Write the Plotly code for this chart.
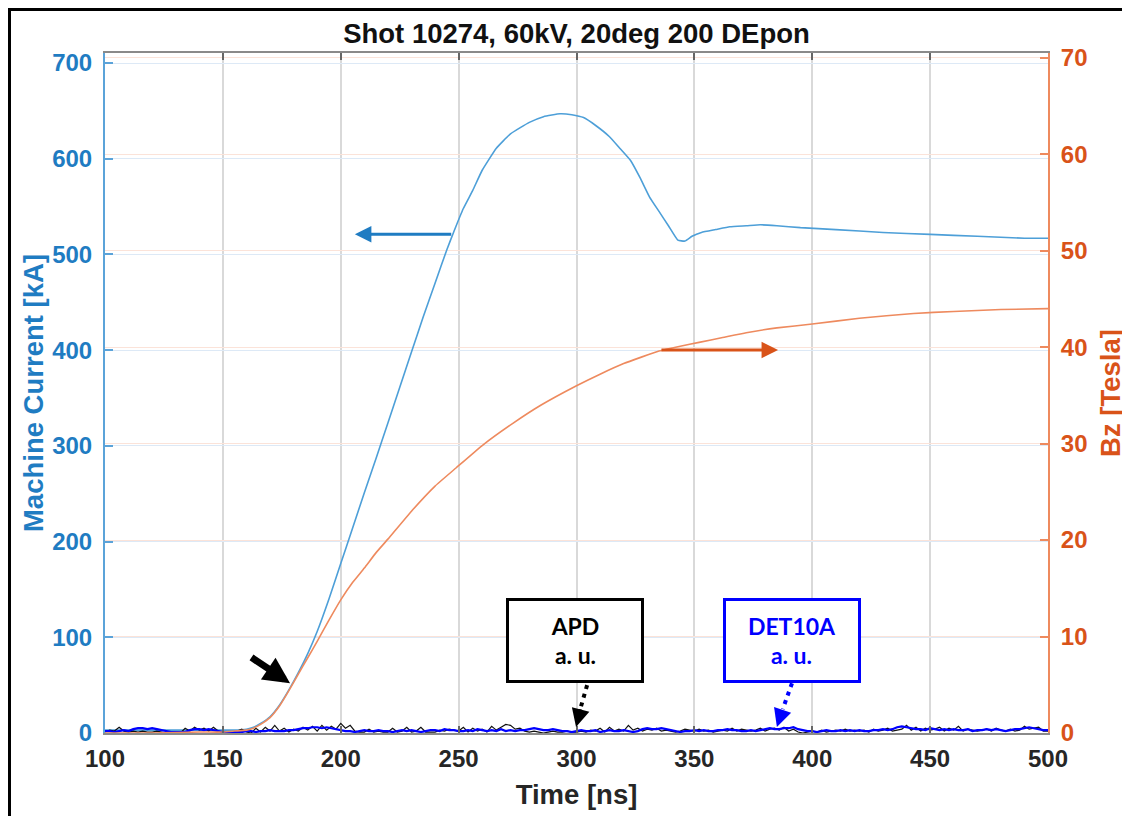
import plotly.graph_objects as go

# ---------------- data ----------------
t_cur = [100, 110, 120, 130, 140, 150, 155, 160, 163, 166, 170, 174, 178, 182, 186, 190,
         195, 200, 205, 210, 215, 220, 225, 230, 235, 240, 245, 248, 252, 256, 260, 266,
         272, 280, 286, 293, 298, 303, 308, 314, 318, 323, 327, 331, 335, 339, 343, 346,
         349, 353, 359, 365, 372, 378, 385, 395, 410, 430, 450, 470, 490, 500]
current_kA = [3, 3, 3, 3, 3, 3, 3, 4, 6, 10, 17, 29, 45, 63, 83, 106,
              140, 177, 214, 251, 287, 324, 361, 398, 435, 470, 505, 524, 548, 567, 588, 611,
              626, 638, 644, 647, 646, 643, 635, 623, 612, 598, 580, 560, 545, 530, 515, 514,
              519, 523, 526, 529, 530, 531, 530, 528, 526, 523, 521, 519, 517, 517]

t_bz = [100, 120, 140, 150, 155, 160, 163, 166, 170, 174, 178, 182, 186, 190, 195, 200,
        205, 210, 215, 220, 230, 240, 249, 260, 273, 285, 300, 310, 320, 335, 344, 352,
        362, 372, 385, 400, 420, 443, 460, 480, 500]
bz_T = [0.0, 0.0, 0.1, 0.1, 0.2, 0.3, 0.5, 0.9, 1.6, 2.8, 4.4, 6.1, 7.8, 9.5, 11.7, 13.8,
        15.6, 17.1, 18.7, 20.1, 23.0, 25.6, 27.5, 29.8, 32.1, 34.0, 36.0, 37.2, 38.3, 39.6, 40.1, 40.5,
        41.0, 41.5, 42.0, 42.4, 43.0, 43.5, 43.7, 43.9, 44.0]

t_noise = list(range(100, 501, 2))
det10a = [2, 2, 1, 2, 3, 2, 4, 5, 5, 4, 5, 4, 3, 2, 1, 1, 1, 1, 3, 4,
          4, 3, 4, 3, 2, 1, 1, 1, 1, 1, 2, 2, 1, 2, 2, 3, 2, 2, 2, 3,
          3, 4, 5, 5, 6, 6, 5, 6, 5, 4, 3, 2, 2, 1, 2, 3, 2, 2, 3, 2,
          2, 1, 2, 3, 2, 3, 2, 1, 2, 3, 3, 2, 4, 3, 3, 2, 2, 3, 2, 4,
          3, 2, 3, 2, 4, 2, 3, 2, 3, 3, 4, 5, 4, 3, 3, 4, 3, 2, 2, 1,
          2, 3, 2, 2, 3, 1, 2, 3, 2, 2, 3, 2, 1, 2, 4, 5, 4, 4, 5, 4,
          3, 2, 1, 2, 2, 3, 2, 3, 2, 2, 3, 3, 4, 3, 3, 2, 2, 3, 2, 3,
          4, 5, 4, 4, 5, 5, 6, 4, 3, 2, 2, 1, 2, 3, 2, 2, 3, 2, 3, 2,
          3, 2, 2, 3, 3, 4, 3, 4, 6, 7, 6, 5, 4, 4, 3, 5, 4, 3, 4, 3,
          4, 3, 3, 4, 2, 3, 3, 4, 3, 4, 3, 2, 3, 4, 4, 5, 6, 5, 4, 3,
          3]
apd = [1, 3, 2, 6, 2, 1, 2, 1, 2, 1, 1, 2, 1, 0, 0, 0, 0, 5, 2, 6,
       3, 5, 2, 6, 2, 1, 0, 0, 2, 4, 1, 0, 5, 1, 6, 2, 8, 2, 5, 1,
       4, 2, 6, 3, 7, 2, 8, 3, 7, 4, 10, 5, 8, 2, 1, 1, 4, 1, 2, 1,
       1, 5, 1, 2, 6, 1, 2, 6, 1, 1, 1, 3, 2, 4, 3, 2, 6, 1, 5, 2,
       4, 1, 7, 3, 6, 9, 8, 4, 5, 2, 1, 2, 1, 0, 1, 2, 1, 1, 2, 1,
       1, 2, 1, 3, 2, 5, 1, 6, 2, 4, 2, 8, 3, 5, 2, 4, 3, 5, 2, 3,
       2, 1, 2, 4, 3, 2, 4, 2, 3, 1, 2, 3, 2, 5, 2, 4, 3, 2, 3, 5,
       2, 4, 5, 3, 6, 2, 4, 1, 0, 1, 2, 1, 3, 1, 2, 3, 2, 4, 2, 3,
       2, 3, 1, 4, 2, 3, 5, 2, 3, 4, 8, 3, 6, 2, 5, 3, 4, 6, 2, 5,
       3, 7, 2, 4, 3, 2, 3, 4, 2, 5, 3, 2, 4, 2, 3, 7, 4, 5, 6, 2,
       2]

x_ticks = [100, 150, 200, 250, 300, 350, 400, 450, 500]
y_left_ticks = [0, 100, 200, 300, 400, 500, 600, 700]
y_right_ticks = [0, 10, 20, 30, 40, 50, 60, 70]

title_text = "Shot 10274, 60kV, 20deg 200 DEpon"

BLUE = "#1f7cc2"
ORANGE = "#d95319"
FONT = "Liberation Sans, Arial, sans-serif"

# page is offset by the body margin (~8px): figure sized so it fits in the window
W, H = 1122, 808
ML, MT, MR, MB = 97, 45, 82, 83
PW, PH = W - ML - MR, H - MT - MB

fig = go.Figure()
fig.add_trace(go.Scatter(x=t_cur, y=current_kA, mode="lines", yaxis="y",
                         line=dict(color="#4d9fd8", width=1.6, shape="spline", smoothing=0.4),
                         showlegend=False))
fig.add_trace(go.Scatter(x=t_bz, y=bz_T, mode="lines", yaxis="y2",
                         line=dict(color="#ee8a5e", width=1.6, shape="spline", smoothing=0.4),
                         showlegend=False))
fig.add_trace(go.Scatter(x=t_noise, y=apd, mode="lines", yaxis="y",
                         line=dict(color="#111111", width=1.2), showlegend=False))
fig.add_trace(go.Scatter(x=t_noise, y=det10a, mode="lines", yaxis="y",
                         line=dict(color="#0000ff", width=2.2), showlegend=False))

fig.update_layout(
    width=W, height=H,
    margin=dict(l=ML, r=MR, t=MT, b=MB, autoexpand=False),
    paper_bgcolor="white", plot_bgcolor="white",
    title=dict(text=title_text, x=0.5, xref="paper", y=1 - 25 / H, yanchor="middle",
               font=dict(family=FONT, size=27.5, color="#111111", weight="bold")),
    xaxis=dict(range=[100, 500], tickvals=x_ticks, ticks="inside", ticklen=7, tickwidth=1.5,
               tickcolor="#666666", showline=True, linecolor="#8a8a8a", linewidth=2,
               mirror="ticks", showgrid=True, gridcolor="#d9d9d9", gridwidth=1.6,
               zeroline=False, automargin=False, ticklabelstandoff=3,
               tickfont=dict(family=FONT, size=24, color="#262626", weight="bold"),
               title=dict(text="Time [ns]", standoff=14,
                          font=dict(family=FONT, size=27.5, color="#262626", weight="bold"))),
    yaxis=dict(range=[0, 710.5], tickvals=y_left_ticks, ticks="inside", ticklen=8, tickwidth=2,
               tickcolor="#5ba3d9", showline=True, linecolor="#5ba3d9", linewidth=2,
               showgrid=True, gridcolor="#dde9f6", gridwidth=1.4, zeroline=False,
               automargin=False, ticklabelstandoff=6,
               tickfont=dict(family=FONT, size=24, color=BLUE, weight="bold"),
               title=dict(text="Machine Current [kA]", standoff=1,
                          font=dict(family=FONT, size=27.5, color=BLUE, weight="bold"))),
    yaxis2=dict(range=[0, 70.5], tickvals=y_right_ticks, overlaying="y", side="right",
                ticks="inside", ticklen=8, tickwidth=2, tickcolor="#ee8a5e",
                showline=True, linecolor="#ee8a5e", linewidth=2,
                showgrid=True, gridcolor="#fbe3d9", gridwidth=1.4, zeroline=False,
                automargin=False, ticklabelstandoff=6,
                tickfont=dict(family=FONT, size=24, color=ORANGE, weight="bold"),
                title=dict(text="Bz [Tesla]", standoff=14,
                           font=dict(family=FONT, size=27.5, color=ORANGE, weight="bold"))),
)

# outer black frame (runs off the right and bottom edges as in the reference)
fig.add_shape(type="rect", xref="paper", yref="paper",
              x0=(1.5 - ML) / PW, x1=(W + 20 - ML) / PW,
              y0=(PH + MT - (H + 20)) / PH, y1=(PH + MT - 1.5) / PH,
              line=dict(color="black", width=3), fillcolor="rgba(0,0,0,0)", layer="above")

# direction arrows
fig.add_annotation(x=206, y=521, xref="x", yref="y", ax=247.5, ay=521, axref="x", ayref="y",
                   showarrow=True, arrowhead=2, arrowsize=1.1, arrowwidth=3, arrowcolor=BLUE, text="")
fig.add_annotation(x=385.5, y=39.7, xref="x", yref="y2", ax=335.4, ay=39.7, axref="x", ayref="y2",
                   showarrow=True, arrowhead=2, arrowsize=1.1, arrowwidth=3, arrowcolor=ORANGE, text="")
fig.add_annotation(x=178.5, y=52, xref="x", yref="y", ax=161.5, ay=80, axref="x", ayref="y",
                   showarrow=True, arrowhead=2, arrowsize=0.75, arrowwidth=7, arrowcolor="black", text="")

# text boxes
fig.add_annotation(x=299.4, y=97, xref="x", yref="y", text="APD<br>a. u.", showarrow=False,
                   font=dict(family="Lato, Noto Sans, sans-serif", size=23, color="black", weight="bold"),
                   bordercolor="black", borderwidth=3, borderpad=0, bgcolor="white",
                   width=132, height=79)
fig.add_annotation(x=391.2, y=97, xref="x", yref="y", text="DET10A<br>a. u.", showarrow=False,
                   font=dict(family="Lato, Noto Sans, sans-serif", size=23, color="#0000ff", weight="bold"),
                   bordercolor="#0000ff", borderwidth=3, borderpad=0, bgcolor="white",
                   width=132, height=79)

# dotted pointer arrows
fig.add_shape(type="line", xref="x", yref="y", x0=304.5, y0=50, x1=301.6, y1=25,
              line=dict(color="black", width=4, dash="4px,5px"))
fig.add_annotation(x=299.8, y=6.3, xref="x", yref="y", ax=5, ay=-19, showarrow=True,
                   arrowhead=2, arrowsize=1.2, arrowwidth=3, arrowcolor="black", text="")
fig.add_shape(type="line", xref="x", yref="y", x0=391.4, y0=52, x1=387.5, y1=25,
              line=dict(color="#0000ff", width=4, dash="4px,5px"))
fig.add_annotation(x=385.0, y=6.3, xref="x", yref="y", ax=6, ay=-18, showarrow=True,
                   arrowhead=2, arrowsize=1.2, arrowwidth=3, arrowcolor="#0000ff", text="")

fig.write_html("out.html")
